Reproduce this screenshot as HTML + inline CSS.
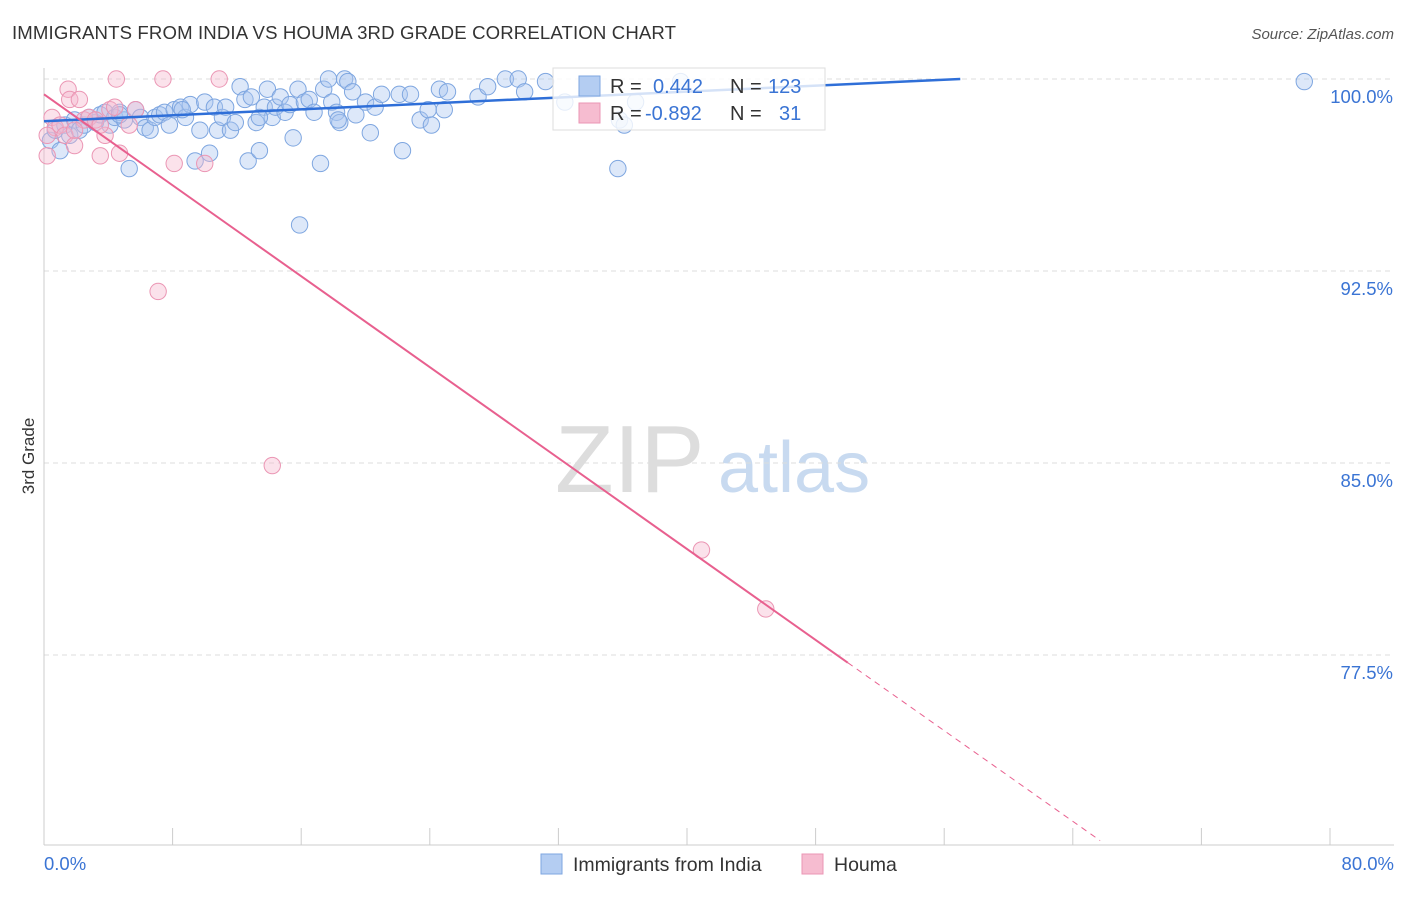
<!DOCTYPE html>
<html><head><meta charset="utf-8"><style>
body{margin:0;background:#fff;font-family:"Liberation Sans",sans-serif;}
svg text{font-family:"Liberation Sans",sans-serif;}
</style></head><body>
<svg id="chart" width="1406" height="892">
<text x="12" y="39" font-size="18.6" fill="#333" textLength="664">IMMIGRANTS FROM INDIA VS HOUMA 3RD GRADE CORRELATION CHART</text>
<text x="1394" y="39" font-size="15" fill="#555" font-style="italic" text-anchor="end">Source: ZipAtlas.com</text>
<text x="34" y="456" font-size="17" fill="#333" text-anchor="middle" transform="rotate(-90 34 456)">3rd Grade</text>
<text x="555" y="492" font-size="96" fill="#ddd" font-family="Liberation Serif">ZIP</text>
<text x="718" y="492" font-size="72" fill="#c8daf0">atlas</text>
<g id="grid"></g><g id="pts"></g><g id="trend"></g>
<g>
<rect x="553" y="68" width="272" height="62" fill="#fff" fill-opacity="0.8" stroke="#ddd"/>
<rect x="579" y="76" width="21" height="20" fill="#b4cdf2" stroke="#7ea6e0"/>
<rect x="579" y="103" width="21" height="20" fill="#f6bcd0" stroke="#eb96b4"/>
<text x="610" y="93" font-size="20" fill="#333">R = </text><text x="653" y="93" font-size="20" fill="#3a74d4">0.442</text>
<text x="730" y="93" font-size="20" fill="#333">N = </text><text x="768" y="93" font-size="20" fill="#3a74d4">123</text>
<text x="610" y="120" font-size="20" fill="#333">R = </text><text x="645" y="120" font-size="20" fill="#3a74d4">-0.892</text>
<text x="730" y="120" font-size="20" fill="#333">N = </text><text x="779" y="120" font-size="20" fill="#3a74d4">31</text>
</g>
<g>
<rect x="541" y="854" width="21" height="20" fill="#b4cdf2" stroke="#7ea6e0"/>
<text x="573" y="871" font-size="19.5" fill="#333">Immigrants from India</text>
<rect x="802" y="854" width="21" height="20" fill="#f6bcd0" stroke="#eb96b4"/>
<text x="834" y="871" font-size="19.5" fill="#333">Houma</text>
</g>
</svg>
<script>
const yTicks=[100,92.5,85,77.5];
const yTickLabels=["100.0%","92.5%","85.0%","77.5%"];
const xTickLabels=["0.0%","80.0%"];
const indiaX=[0.4,0.7,1.0,1.3,1.6,1.9,2.2,2.5,2.8,3.2,3.5,3.8,4.1,4.4,4.7,5.0,5.3,5.7,6.0,6.3,6.6,6.9,7.2,7.5,7.8,8.1,8.5,8.8,9.1,9.4,9.7,10.0,10.3,10.6,10.8,11.1,11.3,11.6,11.9,12.2,12.5,12.7,12.9,13.2,13.4,13.7,13.9,14.2,14.4,14.7,15.0,15.3,15.5,15.8,15.9,16.2,16.5,16.8,17.2,17.4,17.7,17.9,18.2,18.4,18.7,18.9,19.2,19.4,20.0,20.3,20.6,21.0,22.1,22.3,22.8,23.4,23.9,24.1,24.6,24.9,25.1,27.0,27.6,28.7,29.5,29.9,31.2,32.4,35.7,35.8,36.1,36.8,39.6,78.4,18.3,13.4,8.6,4.7];
const indiaY=[97.6,98.0,97.2,98.2,97.8,98.4,98.0,98.2,98.5,98.3,98.6,98.7,98.2,98.5,98.7,98.4,96.5,98.8,98.5,98.1,98.0,98.5,98.6,98.7,98.2,98.8,98.9,98.5,99.0,96.8,98.0,99.1,97.1,98.9,98.0,98.5,98.9,98.0,98.3,99.7,99.2,96.8,99.3,98.3,97.2,98.9,99.6,98.5,98.9,99.3,98.7,99.0,97.7,99.6,94.3,99.1,99.2,98.7,96.7,99.6,100.0,99.1,98.7,98.3,100.0,99.9,99.5,98.6,99.1,97.9,98.9,99.4,99.4,97.2,99.4,98.4,98.8,98.2,99.6,98.8,99.5,99.3,99.7,100.0,100.0,99.5,99.9,99.1,96.5,98.4,98.2,99.1,99.9,99.9,98.4,98.5,98.8,98.6];
const houmaX=[0.2,0.5,0.7,1.0,1.3,1.5,1.6,1.9,2.2,2.5,2.8,3.2,3.5,3.8,4.1,4.4,4.5,4.7,5.3,5.7,7.1,7.4,8.1,10.0,10.9,14.2,40.9,44.9,0.2,1.9,3.5];
const houmaY=[97.0,98.5,98.1,98.2,97.8,99.6,99.2,97.4,99.2,98.4,98.5,98.4,97.0,97.8,98.8,98.9,100.0,97.1,98.2,98.8,91.7,100.0,96.7,96.7,100.0,84.9,81.6,79.3,97.8,98.0,98.2];
const X0=44,XS=16.075,Y0=79,YS=25.6;
const xs=v=>X0+v*XS, ys=v=>Y0+(100-v)*YS;
const NS="http://www.w3.org/2000/svg";
function mk(t,a,p){const e=document.createElementNS(NS,t);for(const k in a)e.setAttribute(k,a[k]);p.appendChild(e);return e;}
const grid=document.getElementById('grid');
yTicks.forEach((t,i)=>{
 const l=mk('line',{x1:44,x2:1394,y1:ys(t),y2:ys(t),stroke:'#ddd','stroke-dasharray':'5,4'},grid);
 
 
 const tx=mk('text',{x:1393,y:ys(t)+24,'font-size':18.5,fill:'#3a74d4','text-anchor':'end'},grid);tx.textContent=yTickLabels[i];
 
 
});
const ax=mk('line',{x1:44,x2:1394,y1:845,y2:845,stroke:'#ccc'},grid);


const ay=mk('line',{x1:44,x2:44,y1:68,y2:845,stroke:'#ccc'},grid);


for(let i=0;i<=10;i++){const t=mk('line',{x1:xs(i*8),x2:xs(i*8),y1:828,y2:845,stroke:'#ccc'},grid);
 
 }
[[0,'start',44],[80,'end',1394]].forEach((d,i)=>{const t=mk('text',{x:d[2],y:870,'font-size':18.5,fill:'#3a74d4','text-anchor':d[1]},grid);t.textContent=xTickLabels[i];
 
 });
const pts=document.getElementById('pts');
indiaX.forEach((x,i)=>{const c=mk('circle',{cx:xs(x),cy:ys(indiaY[i]),r:8.2,fill:'#a9c6ef','fill-opacity':0.4,stroke:'#7ea6e0','stroke-width':1},pts);
 
 });
houmaX.forEach((x,i)=>{const c=mk('circle',{cx:xs(x),cy:ys(houmaY[i]),r:8.2,fill:'#f6b6cc','fill-opacity':0.4,stroke:'#eb96b4','stroke-width':1},pts);
 
 });
const tr=document.getElementById('trend');
const b=mk('line',{x1:xs(0),y1:ys(98.35),x2:xs(57),y2:ys(100),stroke:'#2f6fd8','stroke-width':2.5},tr);


const p=mk('line',{x1:xs(0),y1:ys(99.4),x2:xs(50),y2:ys(77.2),stroke:'#e8608f','stroke-width':2},tr);


const pd=mk('line',{x1:xs(50),y1:ys(77.2),x2:xs(65.7),y2:ys(70.25),stroke:'#e8608f','stroke-width':1,'stroke-dasharray':'6,5'},tr);


</script>
</body></html>
